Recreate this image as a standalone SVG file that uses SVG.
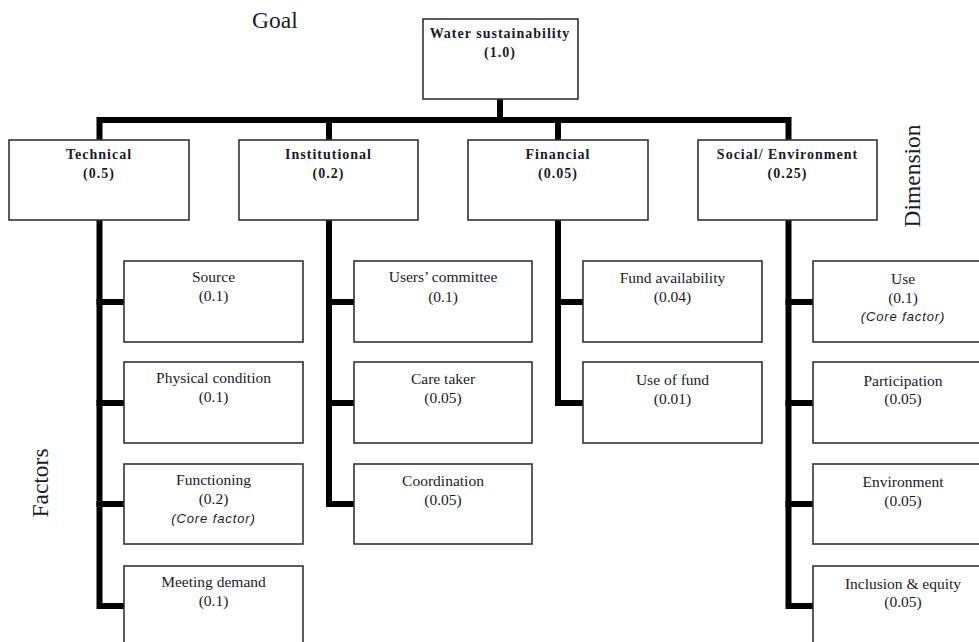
<svg xmlns="http://www.w3.org/2000/svg" width="979" height="642" viewBox="0 0 979 642">
  <style>
    .box { fill: #fff; stroke: #333; stroke-width: 1.6; }
    .link { fill: none; stroke: #000; stroke-width: 6; stroke-linejoin: miter; stroke-linecap: square; }
    .head { font-family: "Liberation Serif", "Times New Roman", serif; font-weight: bold; font-size: 14px; letter-spacing: 1px; fill: #1a1a2a; text-anchor: middle; }
    .fac { font-family: "Liberation Serif", "Times New Roman", serif; font-size: 15.5px; fill: #1a1a2a; text-anchor: middle; }
    .core { font-family: "Liberation Sans", Arial, sans-serif; font-style: italic; font-size: 13px; letter-spacing: 0.9px; fill: #1a1a2a; text-anchor: middle; }
    .tier { font-family: "Liberation Serif", "Times New Roman", serif; font-size: 23.5px; fill: #1a1a2a; }
  </style>

  <rect width="979" height="642" fill="#fff"/>

  <!-- tier labels -->
  <text class="tier" x="252" y="28">Goal</text>
  <text class="tier" transform="translate(48 483) rotate(-90)" text-anchor="middle">Factors</text>
  <text class="tier" transform="translate(920 176) rotate(-90)" text-anchor="middle">Dimension</text>

  <!-- connectors -->
  <g id="connectors">
    <path class="link" d="M500 99 V120"/>
    <path class="link" d="M99.5 140 V120 H788.5 V140"/>
    <path class="link" d="M329 120 V140"/>
    <path class="link" d="M558 120 V140"/>
    <!-- technical branch -->
    <path class="link" d="M99.5 220 V606 H124"/>
    <path class="link" d="M99.5 302 H124 M99.5 403 H124 M99.5 504 H124"/>
    <!-- institutional branch -->
    <path class="link" d="M329 220 V504 H354"/>
    <path class="link" d="M329 302 H354 M329 403 H354"/>
    <!-- financial branch -->
    <path class="link" d="M558 220 V403 H583"/>
    <path class="link" d="M558 302 H583"/>
    <!-- social / environment branch -->
    <path class="link" d="M788.5 220 V606 H813"/>
    <path class="link" d="M788.5 302 H813 M788.5 403 H813 M788.5 504 H813"/>
  </g>

  <!-- goal -->
  <g id="goal">
    <rect class="box" x="423" y="19" width="155" height="80"/>
    <text class="head" x="500" y="38">Water sustainability</text>
    <text class="head" x="500" y="57">(1.0)</text>
  </g>

  <!-- dimensions -->
  <g id="dim-technical">
    <rect class="box" x="9" y="140" width="180" height="80"/>
    <text class="head" x="99" y="159">Technical</text>
    <text class="head" x="99" y="178">(0.5)</text>
  </g>
  <g id="dim-institutional">
    <rect class="box" x="239" y="140" width="179" height="80"/>
    <text class="head" x="328.5" y="159">Institutional</text>
    <text class="head" x="328.5" y="178">(0.2)</text>
  </g>
  <g id="dim-financial">
    <rect class="box" x="468" y="140" width="180" height="80"/>
    <text class="head" x="558" y="159">Financial</text>
    <text class="head" x="558" y="178">(0.05)</text>
  </g>
  <g id="dim-social">
    <rect class="box" x="698" y="140" width="179" height="80"/>
    <text class="head" x="787.5" y="159">Social/ Environment</text>
    <text class="head" x="787.5" y="178">(0.25)</text>
  </g>

  <!-- technical factors -->
  <g id="f-source">
    <rect class="box" x="124" y="261" width="179" height="81"/>
    <text class="fac" x="213.5" y="282">Source</text>
    <text class="fac" x="213.5" y="301">(0.1)</text>
  </g>
  <g id="f-physical">
    <rect class="box" x="124" y="362" width="179" height="81"/>
    <text class="fac" x="213.5" y="383">Physical condition</text>
    <text class="fac" x="213.5" y="402">(0.1)</text>
  </g>
  <g id="f-functioning">
    <rect class="box" x="124" y="464" width="179" height="80"/>
    <text class="fac" x="213.5" y="485">Functioning</text>
    <text class="fac" x="213.5" y="504">(0.2)</text>
    <text class="core" x="213.5" y="523">(Core factor)</text>
  </g>
  <g id="f-demand">
    <rect class="box" x="124" y="566" width="179" height="90"/>
    <text class="fac" x="213.5" y="587">Meeting demand</text>
    <text class="fac" x="213.5" y="606">(0.1)</text>
  </g>

  <!-- institutional factors -->
  <g id="f-committee">
    <rect class="box" x="354" y="261" width="178" height="81"/>
    <text class="fac" x="443" y="282">Users’ committee</text>
    <text class="fac" x="443" y="302">(0.1)</text>
  </g>
  <g id="f-caretaker">
    <rect class="box" x="354" y="362" width="178" height="81"/>
    <text class="fac" x="443" y="384">Care taker</text>
    <text class="fac" x="443" y="403">(0.05)</text>
  </g>
  <g id="f-coordination">
    <rect class="box" x="354" y="464" width="178" height="80"/>
    <text class="fac" x="443" y="486">Coordination</text>
    <text class="fac" x="443" y="505">(0.05)</text>
  </g>

  <!-- financial factors -->
  <g id="f-fund">
    <rect class="box" x="583" y="261" width="179" height="81"/>
    <text class="fac" x="672.5" y="283">Fund availability</text>
    <text class="fac" x="672.5" y="302">(0.04)</text>
  </g>
  <g id="f-usefund">
    <rect class="box" x="583" y="362" width="179" height="81"/>
    <text class="fac" x="672.5" y="385">Use of fund</text>
    <text class="fac" x="672.5" y="404">(0.01)</text>
  </g>

  <!-- social / environment factors -->
  <g id="f-use">
    <rect class="box" x="813" y="261" width="180" height="81"/>
    <text class="fac" x="903" y="284">Use</text>
    <text class="fac" x="903" y="303">(0.1)</text>
    <text class="core" x="903" y="321">(Core factor)</text>
  </g>
  <g id="f-participation">
    <rect class="box" x="813" y="362" width="180" height="81"/>
    <text class="fac" x="903" y="386">Participation</text>
    <text class="fac" x="903" y="404">(0.05)</text>
  </g>
  <g id="f-environment">
    <rect class="box" x="813" y="464" width="180" height="80"/>
    <text class="fac" x="903" y="487">Environment</text>
    <text class="fac" x="903" y="506">(0.05)</text>
  </g>
  <g id="f-inclusion">
    <rect class="box" x="813" y="566" width="180" height="90"/>
    <text class="fac" x="903" y="589">Inclusion &amp; equity</text>
    <text class="fac" x="903" y="607">(0.05)</text>
  </g>
</svg>
